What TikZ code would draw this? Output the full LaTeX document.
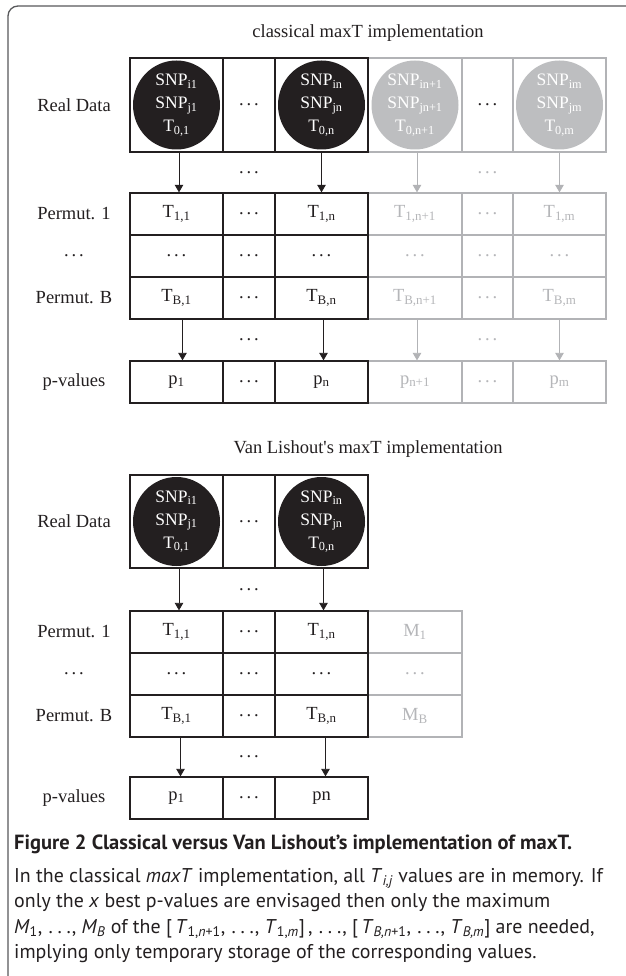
\documentclass[tikz,border=0pt]{standalone}
\usepackage{fontspec}
\setmainfont{Liberation Serif}
\newfontfamily\capfont{PT Sans}
\usetikzlibrary{arrows.meta,shapes.geometric}
\definecolor{blk}{HTML}{231F20}
\definecolor{lg}{HTML}{B2B3B6}
\definecolor{lgtext}{HTML}{B5B6B9}
\definecolor{cfill}{HTML}{BDBEC0}
\definecolor{framec}{HTML}{58595B}
\newcommand\dts{.\kern2.9pt.\kern2.9pt.}
\newcommand\cdts{\kern0.05em.\kern0.24em.\kern0.24em.\kern0.05em}
\newcommand\sub[1]{\textsubscript{#1}}
\newcommand\cel[7]{\node[#6, minimum width=#4pt, minimum height=#5pt] (#1) at (#2,#3) {#7};}
\newcommand\circtext[3]{SNP\sub{#1}\\SNP\sub{#2}\\T\sub{#3}}
\begin{document}
\begin{tikzpicture}[x=1pt,y=-1pt,
  cell/.style={draw=blk, line width=1.3pt, inner sep=0pt, text=blk, font=\fontsize{18.5}{22}\selectfont},
  gcell/.style={cell, draw=lg, text=lgtext},
  circ/.style={ellipse, fill=blk, minimum width=87pt, minimum height=89pt, inner sep=0pt, text=white, align=center, font=\fontsize{17.5}{23}\selectfont},
  gcirc/.style={circ, fill=cfill},
  lab/.style={text=blk, font=\fontsize{18.5}{22}\selectfont},
  glab/.style={lab, text=lgtext},
  arr/.style={draw=blk, line width=0.8pt, -{Triangle[width=8.5pt,length=7.5pt]}},
  garr/.style={arr, draw=lg},
  captext/.style={anchor=base west, inner sep=0pt, text=blk, font=\capfont\fontsize{19.9}{25}\selectfont}]
\useasboundingbox (0,0) rectangle (625,976);
\fill[white] (0,0) rectangle (625,976);
\draw[framec, line width=1.3pt, rounded corners=10pt] (626,6) -- (8,6) -- (8,977);

% ---------- classical ----------
\node[lab] (title1) at (368,33) {classical maxT implementation};
% gray part
\cel{a04}{415}{105}{94}{94}{gcell}{}
\cel{a05}{487.5}{105}{51}{94}{gcell, text=blk}{\dts}
\cel{a06}{559.5}{105}{93}{94}{gcell}{}
\cel{a14}{415}{214}{94}{42}{gcell}{T\sub{1,n+1}}
\cel{a15}{487.5}{214}{51}{42}{gcell}{\dts}
\cel{a16}{559.5}{214}{93}{42}{gcell}{T\sub{1,m}}
\cel{a24}{415}{256}{94}{42}{gcell}{\dts}
\cel{a25}{487.5}{256}{51}{42}{gcell}{\dts}
\cel{a26}{559.5}{256}{93}{42}{gcell}{\dts}
\cel{a34}{415}{298}{94}{42}{gcell}{T\sub{B,n+1}}
\cel{a35}{487.5}{298}{51}{42}{gcell}{\dts}
\cel{a36}{559.5}{298}{93}{42}{gcell}{T\sub{B,m}}
\cel{a44}{415}{382}{94}{42}{gcell}{p\sub{n+1}}
\cel{a45}{487.5}{382}{51}{42}{gcell}{\dts}
\cel{a46}{559.5}{382}{93}{42}{gcell}{p\sub{m}}
% black part
\cel{a01}{176.5}{105}{93}{94}{cell}{}
\cel{a02}{249}{105}{52}{94}{cell}{\dts}
\cel{a03}{321.5}{105}{93}{94}{cell}{}
\cel{a11}{176.5}{214}{93}{42}{cell}{T\sub{1,1}}
\cel{a12}{249}{214}{52}{42}{cell}{\dts}
\cel{a13}{321.5}{214}{93}{42}{cell}{T\sub{1,n}}
\cel{a21}{176.5}{256}{93}{42}{cell}{\dts}
\cel{a22}{249}{256}{52}{42}{cell}{\dts}
\cel{a23}{321.5}{256}{93}{42}{cell}{\dts}
\cel{a31}{176.5}{298}{93}{42}{cell}{T\sub{B,1}}
\cel{a32}{249}{298}{52}{42}{cell}{\dts}
\cel{a33}{321.5}{298}{93}{42}{cell}{T\sub{B,n}}
\cel{a41}{176.5}{382}{93}{42}{cell}{p\sub{1}}
\cel{a42}{249}{382}{52}{42}{cell}{\dts}
\cel{a43}{321.5}{382}{93}{42}{cell}{p\sub{n}}
% circles
\node[circ] (c01) at (a01) {\circtext{i1}{j1}{0,1}};
\node[circ] (c03) at (a03) {\circtext{in}{jn}{0,n}};
\node[gcirc] (c04) at (a04) {\circtext{in+1}{jn+1}{0,n+1}};
\node[gcirc] (c06) at (a06) {\circtext{im}{jm}{0,m}};
% row labels
\node[lab] (l0) at (74,105) {Real Data};
\node[lab] (l1) at (74,214) {Permut. 1};
\node[lab] (l2) at (74,256) {\dts};
\node[lab] (l3) at (74,298) {Permut. B};
\node[lab] (l4) at (74,382) {p-values};
% gaps
\node[lab] (g1) at (249,172.5) {\dts};
\node[glab] (g1r) at (487.5,172.5) {\dts};
\node[lab] (g2) at (249,340) {\dts};
\node[glab] (g2r) at (487.5,340) {\dts};
% arrows
\draw[arr] ([xshift=2.5pt]a01.south) -- ([xshift=2.5pt]a11.north);
\draw[arr] (a03.south) -- (a13.north);
\draw[garr] ([xshift=2pt]a04.south) -- ([xshift=2pt]a14.north);
\draw[garr] (a06.south) -- (a16.north);
\draw[arr] ([xshift=6pt]a31.south) -- ([xshift=6pt]a41.north);
\draw[arr] ([xshift=2pt]a33.south) -- ([xshift=2pt]a43.north);
\draw[garr] ([xshift=2pt]a34.south) -- ([xshift=2pt]a44.north);
\draw[garr] (a36.south) -- (a46.north);

% ---------- Van Lishout ----------
\node[lab] (title2) at (368,449) {Van Lishout\textquotesingle s maxT implementation};
\cel{b14}{415}{632}{94}{42}{gcell}{M\sub{1}}
\cel{b24}{415}{674}{94}{42}{gcell}{\dts}
\cel{b34}{415}{716}{94}{42}{gcell}{M\sub{B}}
\cel{b01}{176.5}{521.5}{93}{93}{cell}{}
\cel{b02}{249}{521.5}{52}{93}{cell}{\dts}
\cel{b03}{321.5}{521.5}{93}{93}{cell}{}
\cel{b11}{176.5}{632}{93}{42}{cell}{T\sub{1,1}}
\cel{b12}{249}{632}{52}{42}{cell}{\dts}
\cel{b13}{321.5}{632}{93}{42}{cell}{T\sub{1,n}}
\cel{b21}{176.5}{674}{93}{42}{cell}{\dts}
\cel{b22}{249}{674}{52}{42}{cell}{\dts}
\cel{b23}{321.5}{674}{93}{42}{cell}{\dts}
\cel{b31}{176.5}{716}{93}{42}{cell}{T\sub{B,1}}
\cel{b32}{249}{716}{52}{42}{cell}{\dts}
\cel{b33}{321.5}{716}{93}{42}{cell}{T\sub{B,n}}
\cel{b41}{176.5}{798}{93}{42}{cell}{p\sub{1}}
\cel{b42}{249}{798}{52}{42}{cell}{\dts}
\cel{b43}{321.5}{798}{93}{42}{cell}{pn}
\node[circ] (d01) at (b01) {\circtext{i1}{j1}{0,1}};
\node[circ] (d03) at (b03) {\circtext{in}{jn}{0,n}};
\node[lab] (m0) at (74,521.5) {Real Data};
\node[lab] (m1) at (74,632) {Permut. 1};
\node[lab] (m2) at (74,674) {\dts};
\node[lab] (m3) at (74,716) {Permut. B};
\node[lab] (m4) at (74,798) {p-values};
\node[lab] (h1) at (249,589.5) {\dts};
\node[lab] (h2) at (249,756.5) {\dts};
\draw[arr] ([xshift=2.5pt]b01.south) -- ([xshift=2.5pt]b11.north);
\draw[arr] ([xshift=2pt]b03.south) -- ([xshift=2pt]b13.north);
\draw[arr] ([xshift=4pt]b31.south) -- ([xshift=4pt]b41.north);
\draw[arr] ([xshift=4pt]b33.south) -- ([xshift=4pt]b43.north);

% ---------- caption ----------
\node[captext, font=\capfont\bfseries\fontsize{20.5}{25}\selectfont] (cap0) at (14,849) {Figure 2 Classical versus Van Lishout’s implementation of maxT.};
\node[captext] (cap1) at (14,882) {In the classical \textit{maxT} implementation, all \textit{T}\sub{\textit{i,j}} values are in memory. If};
\node[captext] (cap2) at (14,907.5) {only the \textit{x} best p-values are envisaged then only the maximum};
\node[captext] (cap3) at (14,933) {\textit{M}\sub{1}, \cdts, \textit{M}\sub{\textit{B}} of the [\,\textit{T}\sub{1,\textit{n}+1}, \cdts, \textit{T}\sub{1,\textit{m}}]\,, \cdts, [\,\textit{T}\sub{\textit{B,n}+1}, \cdts, \textit{T}\sub{\textit{B,m}}] are needed,};
\node[captext] (cap4) at (14,958.5) {implying only temporary storage of the corresponding values.};
\end{tikzpicture}
\end{document}
